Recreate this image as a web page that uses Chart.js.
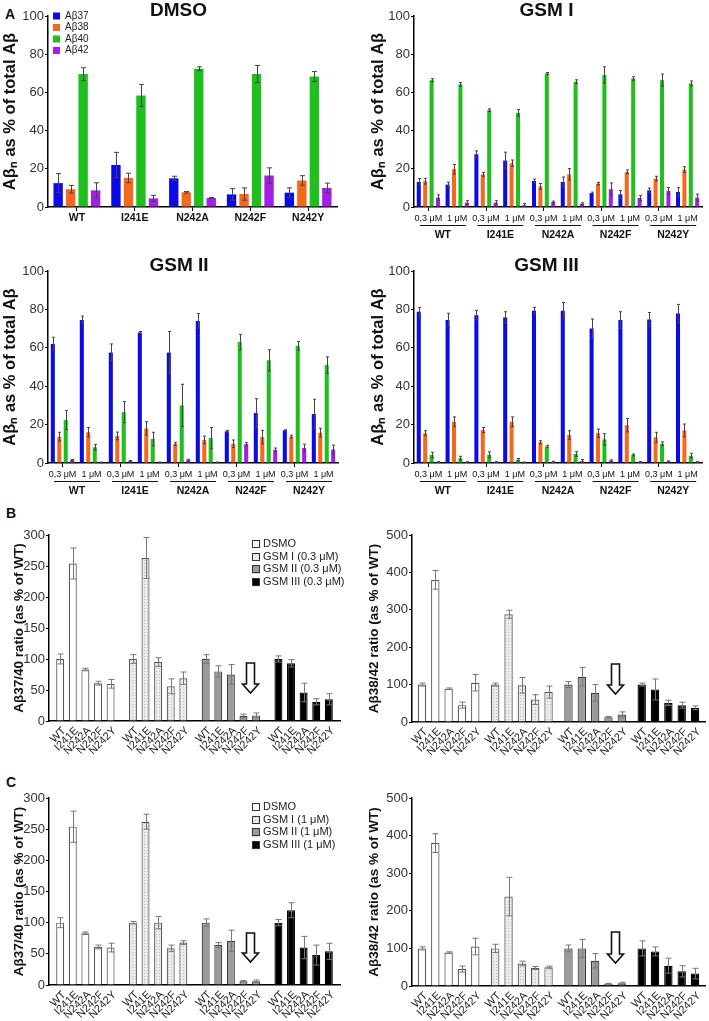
<!DOCTYPE html>
<html>
<head>
<meta charset="utf-8">
<script src="https://cdn.jsdelivr.net/npm/chart.js@4.4.1/dist/chart.umd.min.js"></script>
<style>
  body { margin: 0; background: #fff; }
  #fig { position: relative; width: 709px; height: 1021px; font-family: "Liberation Sans", Arial, sans-serif; }
  #fig canvas { position: absolute; }
  .tag { position: absolute; font-weight: bold; font-size: 14px; line-height: 1; color: #111; }
</style>
</head>
<body>
<div id="fig">
  <div class="tag" style="left:5px;top:7px">A</div>
  <div class="tag" style="left:6px;top:506px">B</div>
  <div class="tag" style="left:6px;top:775px">C</div>
  <canvas id="dmso" width="352" height="245" style="left:0;top:0"></canvas>
  <canvas id="gsm1" width="354" height="245" style="left:355px;top:0"></canvas>
  <canvas id="gsm2" width="352" height="245" style="left:0;top:255px"></canvas>
  <canvas id="gsm3" width="354" height="245" style="left:355px;top:255px"></canvas>
  <canvas id="b3740" width="355" height="275" style="left:0;top:500px"></canvas>
  <canvas id="b3842" width="354" height="275" style="left:355px;top:500px"></canvas>
  <canvas id="c3740" width="355" height="246" style="left:0;top:775px"></canvas>
  <canvas id="c3842" width="354" height="246" style="left:355px;top:775px"></canvas>
</div>
<script>
const mutants = ['WT', 'I241E', 'N242A', 'N242F', 'N242Y'];
const peptides = ['Aβ37', 'Aβ38', 'Aβ40', 'Aβ42'];
const concLabels = ['0,3 μM', '1 μM'];
const treatments = ['DMSO', 'GSM I', 'GSM II', 'GSM III'];
const legendLow = ['DSMO', 'GSM I (0.3 μM)', 'GSM II (0.3 μM)', 'GSM III (0.3 μM)'];
const legendHigh = ['DSMO', 'GSM I (1 μM)', 'GSM II (1 μM)', 'GSM III (1 μM)'];

// panel A, DMSO: rows Aβ37, Aβ38, Aβ40, Aβ42 / columns = mutants
const dmsoMean = [
  [12.5, 22, 15, 6.6, 7.5],
  [9.3, 15.2, 7.7, 6.8, 13.9],
  [69.6, 58.4, 72.4, 69.6, 68.3],
  [8.7, 4.5, 4.7, 16.5, 10]
];
const dmsoErr = [
  [5, 6.6, 1.1, 3, 2.5],
  [2, 2.5, 0.4, 3.2, 2.5],
  [3.3, 5.8, 1, 4.5, 2.6],
  [4, 1.6, 0.3, 4, 2.5]
];

// GSM panels: columns WT 0,3 / WT 1 / I241E 0,3 / I241E 1 / ... / N242Y 1
const gsm1Mean = [
  [13.1, 11.7, 27.6, 24.3, 13.6, 13.1, 7.3, 6.6, 8.7, 7.9],
  [13.5, 19.8, 17.1, 22.9, 10.8, 17.1, 12.2, 18.4, 14.9, 19.6],
  [66.4, 64.2, 50.7, 49.3, 69.9, 65.6, 69.1, 67.3, 66.4, 64.7],
  [4.9, 2.3, 2.3, 1, 2.6, 1.7, 9.3, 4.7, 8.4, 4.9]
];
const gsm1Err = [
  [1.8, 1.3, 1.8, 4.4, 1, 2.6, 0.5, 2, 1.2, 2.2],
  [1.5, 2.5, 1, 1.7, 1.5, 3, 0.6, 1, 1.2, 1.5],
  [0.8, 1, 0.7, 1.7, 0.5, 1, 4.3, 0.9, 3.2, 1.3],
  [1.5, 1, 1, 0.8, 0.5, 0.5, 3.3, 1.4, 1.8, 1.8]
];
const gsm2Mean = [
  [62, 74.5, 57.5, 68, 57.5, 74, 16.5, 26, 17, 25.5],
  [13.7, 16, 14.1, 18, 10, 12, 10, 13.5, 13.8, 15.8],
  [22.4, 8.2, 26.5, 12.5, 30, 13, 63, 53.5, 61, 51],
  [1.5, 0.3, 1, 0.3, 1.5, 0.3, 9.8, 6.8, 7.8, 7]
];
const gsm2Err = [
  [3.5, 2, 4.5, 0.5, 11, 3.8, 0.5, 7.5, 0.3, 7.7],
  [2.3, 2.5, 2, 3.5, 0.8, 2, 2, 3.5, 0.7, 2.3],
  [5, 1.5, 5.5, 3.5, 11, 5.5, 4, 5.5, 2.3, 4.3],
  [0.3, 0.2, 0.3, 0.2, 0.4, 0.2, 0.8, 1, 2, 2.3]
];
const gsm3Mean = [
  [78.8, 74.5, 77, 75.8, 79.3, 79.3, 70, 74.5, 74.8, 77.8],
  [15.5, 21.5, 17.2, 21.5, 10.8, 14.6, 15.5, 19.7, 13.4, 17],
  [4.2, 2.5, 4.3, 1.7, 8.6, 4.7, 12.3, 4.2, 10, 3.8],
  [0.5, 0.5, 0.5, 0.3, 0.6, 1, 1.2, 0.6, 0.8, 0.5]
];
const gsm3Err = [
  [2.2, 3.5, 2.5, 3, 1.8, 4.3, 5, 4.3, 3.6, 4.8],
  [1.3, 2.5, 1.3, 2.5, 0.8, 2.2, 2.2, 3.5, 2.6, 3.3],
  [1.4, 1, 1.5, 0.6, 0.6, 1.2, 3, 0.5, 1, 1.3],
  [0.2, 0.2, 0.2, 0.2, 0.3, 0.8, 0.4, 0.2, 0.3, 0.2]
];

// panels B and C: rows DSMO, GSM I, GSM II, GSM III / columns = mutants
const r3740LowMean = [[100, 254, 83, 61, 60], [100, 263, 95, 56, 69], [100, 80, 75, 8, 9], [100, 93, 46, 31, 35]];
const r3740LowErr = [[8, 25, 2, 3, 7], [7, 33, 7, 12, 10], [7, 9, 16, 3, 4], [5, 6, 15, 5, 9]];
const r3842LowMean = [[100, 380, 89, 45, 105], [100, 288, 98, 60, 80], [100, 121, 78, 13, 20], [100, 87, 51, 45, 38]];
const r3842LowErr = [[4, 25, 2, 8, 22], [4, 11, 21, 13, 16], [8, 25, 22, 2, 7], [4, 28, 7, 8, 5]];
const r3740HighMean = [[100, 254, 83, 61, 60], [100, 262, 100, 59, 68], [100, 64, 71, 6, 6], [100, 120, 60, 48, 54]];
const r3740HighErr = [[8, 25, 2, 3, 7], [2, 12, 10, 5, 3], [6, 4, 17, 1, 2], [5, 12, 18, 16, 13]];
const r3842HighMean = [[100, 380, 89, 45, 105], [100, 238, 60, 48, 50], [100, 100, 67, 6, 7], [100, 92, 54, 39, 33]];
const r3842HighErr = [[4, 25, 2, 8, 22], [11, 51, 6, 4, 3], [9, 24, 19, 1, 3], [20, 12, 20, 15, 14]];

const peptideColors = ['#0b0bea', '#f5691c', '#1fbf1f', '#a21fe6'];
const FONT = '"Liberation Sans", Arial, sans-serif';

Chart.defaults.font.family = FONT;
Chart.defaults.color = '#222';
Chart.defaults.animation = false;
Chart.defaults.plugins.legend.display = false;
Chart.defaults.plugins.tooltip.enabled = false;

// error bars, both directions, caps on each end
const errorBars = {
  id: 'errorBars',
  afterDatasetsDraw(chart, args, o) {
    const ctx = chart.ctx, y = chart.scales.y;
    ctx.save();
    ctx.strokeStyle = o.color || '#444';
    ctx.lineWidth = 1;
    chart.data.datasets.forEach((ds, i) => {
      if (!ds.errors) return;
      chart.getDatasetMeta(i).data.forEach((bar, j) => {
        const v = ds.data[j], e = ds.errors[j];
        const x = Math.round(bar.x) + 0.5;
        const hi = y.getPixelForValue(v + e), lo = y.getPixelForValue(Math.max(v - e, 0));
        const c = o.cap || 2;
        ctx.beginPath();
        ctx.moveTo(x, hi); ctx.lineTo(x, lo);
        ctx.moveTo(x - c, hi); ctx.lineTo(x + c, hi);
        ctx.moveTo(x - c, lo); ctx.lineTo(x + c, lo);
        ctx.stroke();
      });
    });
    ctx.restore();
  }
};

const panelTitle = {
  id: 'panelTitle',
  afterDraw(chart, args, o) {
    if (!o.text) return;
    const { ctx, chartArea: a } = chart;
    ctx.save();
    ctx.font = 'bold 19px ' + FONT;
    ctx.fillStyle = '#111';
    ctx.textAlign = 'center';
    ctx.textBaseline = 'middle';
    ctx.fillText(o.text, (a.left + a.right) / 2 + (o.dx || 0), a.top - 5);
    ctx.restore();
  }
};

// mutant names with a rule under each concentration pair
const groupLabels = {
  id: 'groupLabels',
  afterDraw(chart, args, o) {
    if (!o.labels) return;
    const { ctx, chartArea: a } = chart, x = chart.scales.x;
    ctx.save();
    ctx.strokeStyle = '#111';
    ctx.fillStyle = '#111';
    ctx.lineWidth = 1;
    ctx.font = 'bold 10.5px ' + FONT;
    ctx.textAlign = 'center';
    ctx.textBaseline = 'middle';
    o.labels.forEach((t, k) => {
      const cx = (x.getPixelForValue(2 * k) + x.getPixelForValue(2 * k + 1)) / 2;
      const ly = Math.round(a.bottom + 18) + 0.5;
      ctx.beginPath();
      ctx.moveTo(cx - 23, ly); ctx.lineTo(cx + 23, ly);
      ctx.stroke();
      ctx.fillText(t, cx, a.bottom + 28);
    });
    ctx.restore();
  }
};

// slanted mutant names under every bar (panels B, C)
const barLabels = {
  id: 'barLabels',
  afterDraw(chart, args, o) {
    if (!o.show) return;
    const { ctx, chartArea: a } = chart;
    ctx.save();
    ctx.font = '11px ' + FONT;
    ctx.fillStyle = '#222';
    ctx.textAlign = 'right';
    ctx.textBaseline = 'middle';
    chart.data.datasets.forEach((ds, i) => {
      chart.getDatasetMeta(i).data.forEach(bar => {
        ctx.save();
        ctx.translate(bar.x + 4, a.bottom + 8);
        ctx.rotate(-Math.PI / 4);
        ctx.fillText(ds.label, 0, 0);
        ctx.restore();
      });
    });
    ctx.restore();
  }
};

// hollow arrow over GSM II N242F / N242Y
const arrow = {
  id: 'arrow',
  afterDraw(chart, args, o) {
    if (!o.top) return;
    const { ctx, chartArea: a } = chart;
    const p = chart.getDatasetMeta(3).data[2], q = chart.getDatasetMeta(4).data[2];
    const cx = Math.round((p.x + q.x) / 2) + 0.5;
    const y0 = a.bottom - o.top, y1 = a.bottom - o.bottom;
    const hh = 9, sw = 4, hw = 8;
    ctx.save();
    ctx.beginPath();
    ctx.moveTo(cx - sw, y0); ctx.lineTo(cx + sw, y0);
    ctx.lineTo(cx + sw, y1 - hh); ctx.lineTo(cx + hw, y1 - hh);
    ctx.lineTo(cx, y1); ctx.lineTo(cx - hw, y1 - hh);
    ctx.lineTo(cx - sw, y1 - hh);
    ctx.closePath();
    ctx.fillStyle = '#fff';
    ctx.fill();
    ctx.strokeStyle = '#111';
    ctx.lineWidth = 1.6;
    ctx.stroke();
    ctx.restore();
  }
};

const boxLegend = {
  id: 'boxLegend',
  afterDraw(chart, args, o) {
    if (!o.texts) return;
    const ctx = chart.ctx;
    ctx.save();
    ctx.font = o.size + 'px ' + FONT;
    ctx.textAlign = 'left';
    ctx.textBaseline = 'middle';
    o.texts.forEach((t, k) => {
      const y = o.y + k * o.dy;
      ctx.fillStyle = o.fills[k];
      ctx.fillRect(o.x, y - o.box / 2, o.box, o.box);
      if (o.stroke) {
        ctx.strokeStyle = o.stroke;
        ctx.lineWidth = 1;
        ctx.strokeRect(o.x + 0.5, Math.round(y - o.box / 2) + 0.5, o.box - 1, o.box - 1);
      }
      ctx.fillStyle = '#222';
      ctx.fillText(t, o.x + o.gap, y);
    });
    ctx.restore();
  }
};

Chart.register(errorBars, panelTitle, groupLabels, barLabels, arrow, boxLegend);

const pairCategories = mutants.flatMap(() => concLabels);

function peptideChart(id, labels, means, errs, opt) {
  const cv = document.getElementById(id);
  const a = opt.area;
  return new Chart(cv, {
    type: 'bar',
    data: {
      labels: labels,
      datasets: peptides.map((p, k) => ({
        label: p,
        data: means[k],
        errors: errs[k],
        backgroundColor: peptideColors[k],
        borderWidth: 0,
        categoryPercentage: opt.cat,
        barPercentage: opt.bar
      }))
    },
    options: {
      responsive: false,
      layout: { padding: { left: 0, top: a.t, right: cv.width - a.r, bottom: 0 } },
      scales: {
        x: {
          ticks: { autoSkip: false, maxRotation: 0, minRotation: 0, padding: opt.tickPad, font: opt.xFont, color: '#111' },
          grid: {
            offset: false, drawOnChartArea: false, tickLength: 4,
            color: c => (c.index % opt.tickEvery === 0 ? '#000' : 'rgba(0,0,0,0)')
          },
          border: { color: '#000', width: 1.5 },
          afterFit: s => { s.height = cv.height - a.b; }
        },
        y: {
          min: 0, max: 100,
          ticks: { stepSize: 20, padding: 1, font: { size: 13 }, color: '#333' },
          grid: { drawOnChartArea: false, tickLength: 3, color: '#000' },
          border: { color: '#000', width: 1.5 },
          title: {
            display: true, text: 'Aβₙ as % of total Aβ', color: '#111',
            font: { size: 16.5, weight: 'bold' }, padding: { top: opt.titlePad, bottom: 0 }
          },
          afterFit: s => { s.width = a.l; }
        }
      },
      plugins: {
        panelTitle: { text: opt.title, dx: opt.titleDx },
        errorBars: { color: '#444', cap: opt.cap },
        groupLabels: opt.groups ? { labels: opt.groups } : {},
        boxLegend: opt.legend || {}
      }
    }
  });
}

function dotPattern(ctx) {
  const c = document.createElement('canvas');
  c.width = 3; c.height = 3;
  const g = c.getContext('2d');
  g.fillStyle = '#ececec';
  g.fillRect(0, 0, 3, 3);
  g.fillStyle = '#b8b8b8';
  g.fillRect(0, 0, 1, 1);
  return ctx.createPattern(c, 'repeat');
}

function ratioChart(id, means, errs, opt) {
  const cv = document.getElementById(id);
  const a = opt.area;
  const fills = ['#ffffff', dotPattern(cv.getContext('2d')), '#9b9b9b', '#000000'];
  const edges = ['#555', '#555', '#3a3a3a', '#000'];
  return new Chart(cv, {
    type: 'bar',
    data: {
      labels: treatments,
      datasets: mutants.map((m, i) => ({
        label: m,
        data: means.map(r => r[i]),
        errors: errs.map(r => r[i]),
        backgroundColor: fills,
        borderColor: edges,
        borderWidth: 1.2,
        categoryPercentage: opt.cat,
        barPercentage: opt.bar
      }))
    },
    options: {
      responsive: false,
      layout: { padding: { left: 0, top: a.t, right: cv.width - a.r, bottom: 0 } },
      scales: {
        x: {
          ticks: { display: false },
          grid: { display: true, drawOnChartArea: false, drawTicks: false },
          border: { color: '#000', width: 1.5 },
          afterFit: s => { s.height = cv.height - a.b; }
        },
        y: {
          min: 0, max: opt.max,
          ticks: { stepSize: opt.step, padding: 1, font: { size: 13 }, color: '#333' },
          grid: { drawOnChartArea: false, tickLength: 3, color: '#000' },
          border: { color: '#000', width: 1.5 },
          title: {
            display: true, text: opt.yTitle, color: '#111',
            font: { size: 13.5, weight: 'bold' }, padding: { top: 11, bottom: 0 }
          },
          afterFit: s => { s.width = a.l; }
        }
      },
      plugins: {
        errorBars: { color: '#777', cap: 3 },
        barLabels: { show: true },
        arrow: opt.arrow,
        boxLegend: opt.legend
          ? { texts: opt.legend, fills: fills, stroke: '#333', x: 252, y: opt.legendY, dy: 12.7, box: 8, gap: 11, size: 11 }
          : {}
      }
    }
  });
}

peptideChart('dmso', mutants, dmsoMean, dmsoErr, {
  area: { l: 48, t: 16, r: 337, b: 207 }, cat: 0.865, bar: 0.75,
  title: treatments[0], titleDx: -14, titlePad: 0.6,
  xFont: { size: 10.5, weight: 'bold' }, tickPad: 1, tickEvery: 1, cap: 2.5,
  legend: { texts: peptides, fills: peptideColors, x: 53, y: 16, dy: 11.5, box: 7, gap: 12, size: 10 }
});
peptideChart('gsm1', pairCategories, gsm1Mean, gsm1Err, {
  area: { l: 59, t: 16, r: 347, b: 207 }, cat: 0.89, bar: 0.63,
  title: treatments[1], titleDx: -11.5, titlePad: 14,
  xFont: { size: 9 }, tickPad: 2, tickEvery: 2, cap: 1.5, groups: mutants
});
peptideChart('gsm2', pairCategories, gsm2Mean, gsm2Err, {
  area: { l: 48, t: 16, r: 338, b: 208 }, cat: 0.89, bar: 0.63,
  title: treatments[2], titleDx: -14, titlePad: 0.6,
  xFont: { size: 9 }, tickPad: 2, tickEvery: 2, cap: 1.5, groups: mutants
});
peptideChart('gsm3', pairCategories, gsm3Mean, gsm3Err, {
  area: { l: 59, t: 16, r: 347, b: 208 }, cat: 0.89, bar: 0.63,
  title: treatments[3], titleDx: -11.5, titlePad: 14,
  xFont: { size: 9 }, tickPad: 2, tickEvery: 2, cap: 1.5, groups: mutants
});

ratioChart('b3740', r3740LowMean, r3740LowErr, {
  area: { l: 49, t: 35, r: 340, b: 221 }, cat: 0.866, bar: 0.635, max: 300, step: 50,
  yTitle: 'Aβ37/40 ratio (as % of WT)', arrow: { top: 58, bottom: 28 }, legend: legendLow, legendY: 44
});
ratioChart('b3842', r3842LowMean, r3842LowErr, {
  area: { l: 57, t: 35, r: 350, b: 222 }, cat: 0.91, bar: 0.63, max: 500, step: 100,
  yTitle: 'Aβ38/42 ratio (as % of WT)', arrow: { top: 58, bottom: 28 }
});
ratioChart('c3740', r3740HighMean, r3740HighErr, {
  area: { l: 49, t: 23, r: 340, b: 210 }, cat: 0.866, bar: 0.635, max: 300, step: 50,
  yTitle: 'Aβ37/40 ratio (as % of WT)', arrow: { top: 52, bottom: 23 }, legend: legendHigh, legendY: 32
});
ratioChart('c3842', r3842HighMean, r3842HighErr, {
  area: { l: 57, t: 23, r: 350, b: 211 }, cat: 0.91, bar: 0.63, max: 500, step: 100,
  yTitle: 'Aβ38/42 ratio (as % of WT)', arrow: { top: 54, bottom: 23 }
});
</script>
</body>
</html>
